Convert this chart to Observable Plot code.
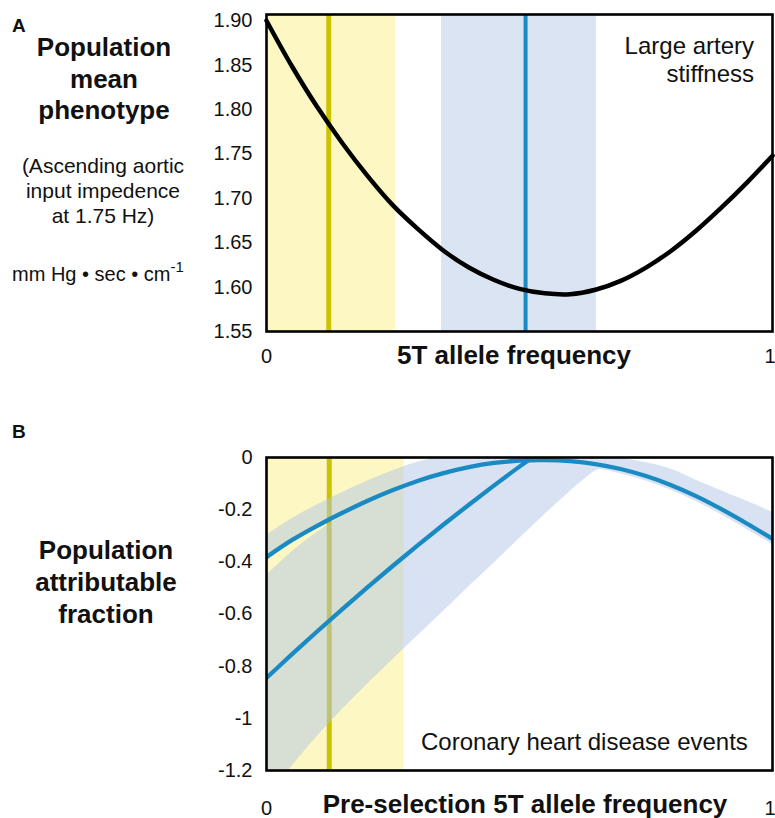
<!DOCTYPE html>
<html>
<head>
<meta charset="utf-8">
<script src="https://cdn.jsdelivr.net/npm/d3@7"></script>
<script src="https://cdn.jsdelivr.net/npm/@observablehq/plot@0.6"></script>
<style>
  html, body { margin: 0; padding: 0; background: #fff; }
  #wrap { position: relative; width: 775px; height: 818px; overflow: hidden; }
  #wrap > svg, #wrap > figure { position: absolute; left: 0; margin: 0; }
</style>
</head>
<body>
<div id="wrap"></div>
<script>
const FONT = '"Liberation Sans", Arial, Helvetica, sans-serif';

// ---------- Panel A data ----------
const yTicksA = [1.55, 1.60, 1.65, 1.70, 1.75, 1.80, 1.85, 1.90];
const xTickStart = [0];
const xTickEnd = [1];
const yellowBandA = [0, 0.256];
const blueBandA = [0.346, 0.652];
const yellowLineA = 0.123;
const blueLineA = 0.512;
const freqA = [0, 0.05, 0.10, 0.15, 0.20, 0.25, 0.30, 0.35, 0.40, 0.45, 0.50, 0.55, 0.60, 0.65, 0.70, 0.75, 0.80, 0.85, 0.90, 0.95, 1.0];
const phenoA = [1.900, 1.849, 1.803, 1.762, 1.725, 1.692, 1.665, 1.641, 1.622, 1.608, 1.598, 1.593, 1.592, 1.597, 1.607, 1.622, 1.641, 1.664, 1.690, 1.718, 1.748];

// ---------- Panel B data ----------
const yTicksB = [0, -0.2, -0.4, -0.6, -0.8, -1, -1.2];
const yellowBandB = [0, 0.272];
const yellowLineB = 0.124;
// curve 1 (upper) and its narrow band
const freq1 = [0, 0.05, 0.10, 0.15, 0.20, 0.25, 0.30, 0.35, 0.40, 0.45, 0.50, 0.55, 0.60, 0.65, 0.70, 0.75, 0.80, 0.85, 0.90, 0.95, 1.0];
const paf1 = [-0.382, -0.317, -0.262, -0.212, -0.166, -0.125, -0.089, -0.060, -0.037, -0.021, -0.012, -0.010, -0.014, -0.025, -0.044, -0.071, -0.106, -0.149, -0.199, -0.254, -0.312];
const paf1Hi = [-0.299, -0.235, -0.182, -0.134, -0.090, -0.051, -0.017, 0, 0, 0, 0, 0, 0, 0, -0.004, -0.020, -0.045, -0.088, -0.128, -0.168, -0.210];
const paf1Lo = [-0.394, -0.329, -0.274, -0.224, -0.178, -0.137, -0.101, -0.072, -0.050, -0.034, -0.026, -0.025, -0.030, -0.042, -0.062, -0.090, -0.126, -0.170, -0.220, -0.276, -0.334];
// curve 2 (lower) and its wide band
const freq2 = [0, 0.05, 0.10, 0.15, 0.20, 0.25, 0.30, 0.35, 0.40, 0.45, 0.50, 0.52];
const paf2 = [-0.845, -0.755, -0.667, -0.581, -0.497, -0.415, -0.335, -0.257, -0.181, -0.107, -0.035, -0.008];
const freq2Band = [0, 0.05, 0.10, 0.15, 0.20, 0.25, 0.30, 0.35, 0.40, 0.45, 0.50, 0.55, 0.60, 0.65, 0.66];
const paf2Hi = [-0.452, -0.362, -0.288, -0.224, -0.178, -0.137, -0.101, -0.072, -0.050, -0.034, -0.026, -0.025, -0.030, -0.042, -0.044];
const paf2Lo = [-1.310, -1.185, -1.070, -0.966, -0.868, -0.774, -0.681, -0.589, -0.496, -0.404, -0.311, -0.219, -0.130, -0.052, -0.044];

const YELLOW_BAND = "#fdf8c3";
const YELLOW_LINE = "#cdc200";
const BLUE_BAND = "#dbe4f2";
const BLUE_LINE = "#1a8ac3";
const CI_FILL = "#b2c5e8";

const wrap = document.getElementById("wrap");

function xAxes(pad) {
  return [
    Plot.axisX({ticks: xTickStart, tickFormat: d => String(d), tickSize: 0, tickPadding: pad, fontSize: 20, label: null, clip: false}),
    Plot.axisX({ticks: xTickEnd, tickFormat: d => String(d), tickSize: 0, tickPadding: pad, fontSize: 20, label: null, textAnchor: "end", dx: 3, clip: false})
  ];
}

// ---------- Panel A ----------
const curveA = freqA.map((f, i) => ({f, v: phenoA[i]}));
const plotA = Plot.plot({
  width: 775, height: 371,
  marginLeft: 266, marginRight: 3, marginTop: 14, marginBottom: 40,
  x: {domain: [0, 1]},
  y: {domain: [1.55, 1.907]},
  style: {fontFamily: FONT, fontSize: "20px", color: "#111", background: "transparent"},
  marks: [
    Plot.rect([yellowBandA], {x1: d => d[0], x2: d => d[1], fill: YELLOW_BAND}),
    Plot.rect([blueBandA], {x1: d => d[0], x2: d => d[1], fill: BLUE_BAND}),
    Plot.ruleX([yellowLineA], {stroke: YELLOW_LINE, strokeWidth: 5}),
    Plot.ruleX([blueLineA], {stroke: BLUE_LINE, strokeWidth: 4}),
    Plot.line(curveA, {x: "f", y: "v", stroke: "#000", strokeWidth: 4.5, curve: "catmull-rom"}),
    Plot.frame({stroke: "#000", strokeWidth: 2.6}),
    Plot.axisY({ticks: yTicksA, tickFormat: d3.format(".2f"), tickSize: 0, tickPadding: 14, fontSize: 20, label: null}),
    ...xAxes(17)
  ]
});
plotA.style.top = "0px";
wrap.appendChild(plotA);

// ---------- Panel B ----------
const c1 = freq1.map((f, i) => ({f, v: paf1[i], hi: paf1Hi[i], lo: paf1Lo[i]}));
const c2 = freq2.map((f, i) => ({f, v: paf2[i]}));
const b2 = freq2Band.map((f, i) => ({f, hi: paf2Hi[i], lo: paf2Lo[i]}));
const plotB = Plot.plot({
  width: 775, height: 398,
  marginLeft: 266, marginRight: 3, marginTop: 37, marginBottom: 48,
  x: {domain: [0, 1]},
  y: {domain: [-1.2, 0]},
  clip: true,
  style: {fontFamily: FONT, fontSize: "20px", color: "#111", background: "transparent"},
  marks: [
    Plot.rect([yellowBandB], {x1: d => d[0], x2: d => d[1], fill: YELLOW_BAND}),
    Plot.ruleX([yellowLineB], {stroke: YELLOW_LINE, strokeWidth: 5}),
    Plot.areaY(b2, {x: "f", y1: "lo", y2: "hi", fill: CI_FILL, fillOpacity: 0.5, curve: "catmull-rom"}),
    Plot.areaY(c1, {x: "f", y1: "lo", y2: "hi", fill: CI_FILL, fillOpacity: 0.5, curve: "catmull-rom"}),
    Plot.line(c2, {x: "f", y: "v", stroke: BLUE_LINE, strokeWidth: 4.3, curve: "catmull-rom"}),
    Plot.line(c1, {x: "f", y: "v", stroke: BLUE_LINE, strokeWidth: 4.3, curve: "catmull-rom"}),
    Plot.frame({stroke: "#000", strokeWidth: 2.6, clip: false}),
    Plot.axisY({ticks: yTicksB, tickFormat: d => String(d), tickSize: 0, tickPadding: 14, fontSize: 20, label: null, clip: false}),
    ...xAxes(30)
  ]
});
plotB.style.top = "420px";
wrap.appendChild(plotB);

// ---------- Text overlay ----------
const svg = d3.select(wrap).append("svg")
  .attr("width", 775).attr("height", 818)
  .style("position", "absolute").style("top", "0px").style("left", "0px")
  .style("pointer-events", "none")
  .attr("font-family", FONT).attr("fill", "#111");

function txt(s, x, y, size, opts = {}) {
  return svg.append("text")
    .attr("x", x).attr("y", y)
    .attr("font-size", size)
    .attr("font-weight", opts.bold ? "bold" : "normal")
    .attr("text-anchor", opts.anchor || "start")
    .text(s);
}

txt("A", 12, 32, 19, {bold: true});
["Population", "mean", "phenotype"].forEach((s, i) => txt(s, 104, 56 + i * 31.5, 26, {bold: true, anchor: "middle"}));
["(Ascending aortic", "input impedence", "at 1.75 Hz)"].forEach((s, i) => txt(s, 103, 173 + i * 25, 21, {anchor: "middle"}));
const unit = txt("mm Hg \u2022 sec \u2022 cm", 12, 281, 20);
unit.append("tspan").attr("dy", -9).attr("font-size", 15).text("-1");
txt("Large artery", 754, 54, 24, {anchor: "end"});
txt("stiffness", 754, 82, 24, {anchor: "end"});
txt("5T allele frequency", 514, 364, 26, {bold: true, anchor: "middle"});

txt("B", 12, 438, 19, {bold: true});
["Population", "attributable", "fraction"].forEach((s, i) => txt(s, 106, 559 + i * 32, 26, {bold: true, anchor: "middle"}));
txt("Coronary heart disease events", 421, 750, 24);
txt("Pre-selection 5T allele frequency", 525, 813, 26, {bold: true, anchor: "middle"});
</script>
</body>
</html>
